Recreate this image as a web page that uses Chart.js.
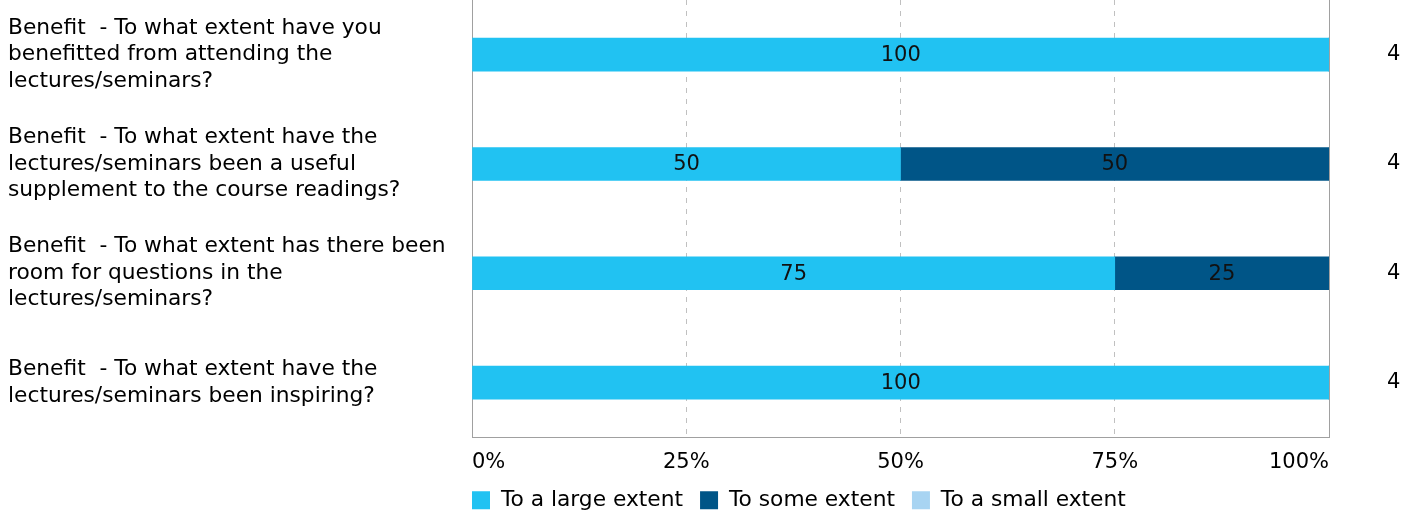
<!DOCTYPE html>
<html>
<head>
<meta charset="utf-8">
<script src="https://cdn.jsdelivr.net/npm/chart.js@4"></script>
<style>
  html, body { margin: 0; padding: 0; background: #fff; }
  #wrap { width: 1418px; height: 511px; position: relative; }
</style>
</head>
<body>
<div id="wrap"><canvas id="c"></canvas></div>
<script>
const categories = [
  ["Benefit  - To what extent have you", "benefitted from attending the", "lectures/seminars?"],
  ["Benefit  - To what extent have the", "lectures/seminars been a useful", "supplement to the course readings?"],
  ["Benefit  - To what extent has there been", "room for questions in the", "lectures/seminars?"],
  ["Benefit  - To what extent have the", "lectures/seminars been inspiring?"]
];
const counts = ["4", "4", "4", "4"];
const largeExtent = [100, 50, 75, 100];
const someExtent = [0, 50, 25, 0];
const smallExtent = [0, 0, 0, 0];
const xTicks = [0, 25, 50, 75, 100];

const FONT = "'DejaVu Sans', Verdana, sans-serif";
const FS = 21;      // numbers
const FT = 21.75;   // text labels
Chart.defaults.font.family = FONT;
Chart.defaults.font.size = FS;
Chart.defaults.color = '#000';

const valueLabels = {
  id: 'valueLabels',
  afterDatasetsDraw(chart) {
    const ctx = chart.ctx;
    ctx.save();
    ctx.font = FS + 'px ' + FONT;
    ctx.fillStyle = '#111';
    ctx.textAlign = 'center';
    ctx.textBaseline = 'middle';
    chart.data.datasets.forEach((ds, i) => {
      const meta = chart.getDatasetMeta(i);
      if (meta.hidden) return;
      meta.data.forEach((el, j) => {
        const v = ds.data[j];
        if (!v) return;
        ctx.fillText(String(v), (el.x + el.base) / 2, el.y + 1);
      });
    });
    ctx.restore();
  }
};

const layoutTweaks = {
  id: 'layoutTweaks',
  afterLayout(chart) {
    const lg = chart.legend;
    if (lg) {
      const p = lg.options.labels.padding;
      lg.left -= p; lg.right -= p;
      lg.top += 10; lg.bottom += 10;
    }
    const xs = chart.scales.x;
    if (xs) xs.bottom = chart.height;
  }
};

function noVPad(scale) {
  scale.paddingTop = 0;
  scale.paddingBottom = 0;
}

new Chart(document.getElementById('c'), {
  type: 'bar',
  data: {
    labels: categories,
    datasets: [
      { label: 'To a large extent', data: largeExtent, backgroundColor: '#21C2F2', barThickness: 33 },
      { label: 'To some extent', data: someExtent, backgroundColor: '#005587', barThickness: 33 },
      { label: 'To a small extent', data: smallExtent, backgroundColor: '#A8D4F2', barThickness: 33 }
    ]
  },
  options: {
    indexAxis: 'y',
    responsive: true,
    maintainAspectRatio: false,
    animation: false,
    layout: { padding: { left: 8, right: 0, top: 0, bottom: 0 } },
    plugins: {
      legend: {
        position: 'bottom',
        fullSize: false,
        align: 'start',
        labels: { boxWidth: 18, boxHeight: 18, padding: 17, font: { size: FT }, color: '#000' }
      },
      tooltip: { enabled: false }
    },
    scales: {
      x: {
        stacked: true,
        min: 0, max: 100,
        afterBuildTicks(scale) { scale.ticks = xTicks.map(v => ({ value: v })); },
        afterFit(scale) { scale.height = 25; },
        ticks: { align: 'inner', padding: 13, callback: v => v + '%', font: { size: FS }, color: '#000' },
        grid: { color: '#c0c0c0', drawTicks: false },
        border: { display: true, color: '#a0a0a0', width: 1, dash: [5, 6] }
      },
      y: {
        stacked: true,
        afterFit(scale) { scale.width = 464; noVPad(scale); },
        ticks: { crossAlign: 'far', padding: 0, font: { size: FT, lineHeight: 1.22 }, color: '#000' },
        grid: { display: false, drawTicks: false },
        border: { display: true, color: '#a0a0a0', width: 1 }
      },
      y2: {
        type: 'category',
        position: 'right',
        labels: counts,
        offset: true,
        afterFit(scale) { scale.width = 89; noVPad(scale); },
        ticks: { crossAlign: 'near', padding: 58, font: { size: FS }, color: '#000' },
        grid: { display: false, drawTicks: false },
        border: { display: true, color: '#a0a0a0', width: 1 }
      }
    }
  },
  plugins: [valueLabels, layoutTweaks]
});
</script>
</body>
</html>
